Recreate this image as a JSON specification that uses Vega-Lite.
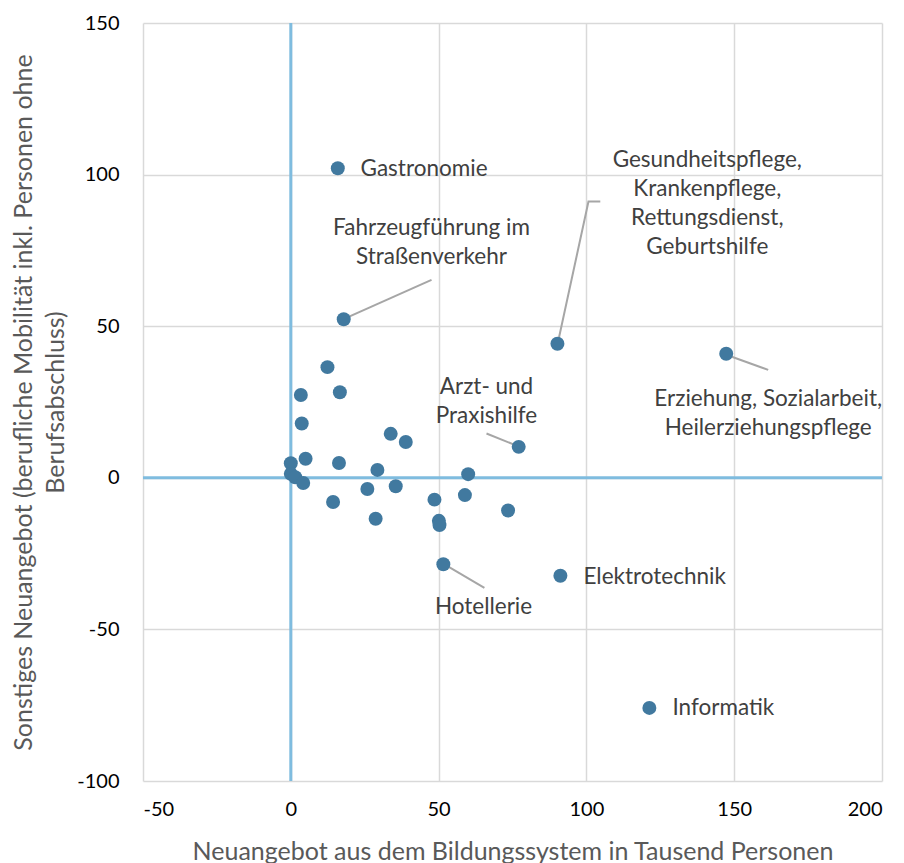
{
  "$schema": "https://vega.github.io/schema/vega-lite/v6.json",
  "width": 739,
  "height": 758,
  "autosize": {"type": "none"},
  "padding": {"left": 143, "top": 23, "right": 22, "bottom": 82},
  "background": "white",
  "config": {
    "view": {"stroke": null},
    "font": "Lato",
    "axis": {"labelFont": "Lato", "titleFont": "Lato"}
  },
  "datasets": {
    "points": [
      {"x": 15.9, "y": 102.1},
      {"x": 17.9, "y": 52.3},
      {"x": 90.2, "y": 44.2},
      {"x": 147.3, "y": 40.9},
      {"x": 12.4, "y": 36.5},
      {"x": 3.4, "y": 27.3},
      {"x": 16.6, "y": 28.2},
      {"x": 3.7, "y": 17.9},
      {"x": 33.8, "y": 14.5},
      {"x": 38.9, "y": 11.8},
      {"x": 77.1, "y": 10.2},
      {"x": 0.0, "y": 4.8},
      {"x": 5.0, "y": 6.3},
      {"x": 16.3, "y": 4.9},
      {"x": 29.3, "y": 2.6},
      {"x": 60.0, "y": 1.2},
      {"x": 0.0, "y": 1.3},
      {"x": 1.5, "y": 0.2},
      {"x": 4.2, "y": -1.7},
      {"x": 25.9, "y": -3.7},
      {"x": 35.5, "y": -2.8},
      {"x": 14.3, "y": -8.0},
      {"x": 48.6, "y": -7.2},
      {"x": 58.9, "y": -5.7},
      {"x": 73.5, "y": -10.8},
      {"x": 28.7, "y": -13.5},
      {"x": 50.1, "y": -14.2},
      {"x": 50.3, "y": -15.6},
      {"x": 51.6, "y": -28.5},
      {"x": 91.2, "y": -32.3},
      {"x": 121.3, "y": -75.9}
    ],
    "leaders": [
      {"id": "f", "x": 18.2, "y": 52.5, "o": 1},
      {"id": "f", "x": 47.6, "y": 65.3, "o": 2},
      {"id": "g", "x": 90.2, "y": 43.9, "o": 1},
      {"id": "g", "x": 100.7, "y": 91.1, "o": 2},
      {"id": "g", "x": 104.7, "y": 91.1, "o": 3},
      {"id": "e", "x": 147.3, "y": 40.6, "o": 1},
      {"id": "e", "x": 161.5, "y": 35.6, "o": 2},
      {"id": "a", "x": 77.4, "y": 10.2, "o": 1},
      {"id": "a", "x": 66.2, "y": 14.6, "o": 2},
      {"id": "h", "x": 51.7, "y": -28.4, "o": 1},
      {"id": "h", "x": 65.5, "y": -36.3, "o": 2}
    ],
    "labelsCenter": [
      {"x": 47.6, "y": 82.5, "t": "Fahrzeugführung im\nStraßenverkehr"},
      {"x": 140.9, "y": 104.9, "t": "Gesundheitspflege,\nKrankenpflege,\nRettungsdienst,\nGeburtshilfe"},
      {"x": 161.5, "y": 26.1, "t": "Erziehung, Sozialarbeit,\nHeilerziehungspflege"},
      {"x": 66.2, "y": 30.0, "t": "Arzt- und\nPraxishilfe"},
      {"x": 65.2, "y": -42.6, "t": "Hotellerie"}
    ],
    "labelsLeft": [
      {"x": 23.6, "y": 102.0, "t": "Gastronomie"},
      {"x": 99.0, "y": -32.7, "t": "Elektrotechnik"},
      {"x": 129.1, "y": -75.9, "t": "Informatik"}
    ],
    "zero": [{"v": 0}]
  },
  "layer": [
    {
      "data": {"name": "zero"},
      "mark": {"type": "rule", "color": "#7FBCDF", "strokeWidth": 3},
      "encoding": {
        "x": {
          "field": "v",
          "type": "quantitative",
          "scale": {"domain": [-50, 200], "nice": false, "zero": false},
          "axis": {
            "values": [-50, 0, 50, 100, 150, 200],
            "labelExpr": "'' + datum.value",
            "grid": true,
            "gridColor": "#D9D9D9",
            "gridWidth": 1.5,
            "domain": false,
            "ticks": false,
            "labelFontSize": 20,
            "labelColor": "#000000",
            "labelPadding": 18,
            "title": "Neuangebot aus dem Bildungssystem in Tausend Personen",
            "titleFontSize": 25,
            "titleFontWeight": "normal",
            "titleColor": "#595959",
            "titlePadding": 20
          }
        }
      }
    },
    {
      "data": {"name": "zero"},
      "mark": {"type": "rule", "color": "#7FBCDF", "strokeWidth": 3},
      "encoding": {
        "y": {
          "field": "v",
          "type": "quantitative",
          "scale": {"domain": [-100, 150], "nice": false, "zero": false},
          "axis": {
            "values": [-100, -50, 0, 50, 100, 150],
            "labelExpr": "'' + datum.value",
            "grid": true,
            "gridColor": "#D9D9D9",
            "gridWidth": 1.5,
            "domain": false,
            "ticks": false,
            "labelFontSize": 20,
            "labelColor": "#000000",
            "labelPadding": 24,
            "title": ["Sonstiges Neuangebot (berufliche Mobilität inkl. Personen ohne", "Berufsabschluss)"],
            "titleFontSize": 25,
            "titleFontWeight": "normal",
            "titleColor": "#595959",
            "titlePadding": 8,
            "titleLineHeight": 32
          }
        }
      }
    },
    {
      "data": {"name": "leaders"},
      "mark": {"type": "line", "color": "#A6A6A6", "strokeWidth": 2},
      "encoding": {
        "x": {"field": "x", "type": "quantitative"},
        "y": {"field": "y", "type": "quantitative"},
        "detail": {"field": "id"},
        "order": {"field": "o"}
      }
    },
    {
      "data": {"name": "points"},
      "mark": {"type": "circle", "color": "#41799F", "opacity": 1, "size": 195},
      "encoding": {
        "x": {"field": "x", "type": "quantitative"},
        "y": {"field": "y", "type": "quantitative"}
      }
    },
    {
      "data": {"name": "labelsCenter"},
      "mark": {"type": "text", "align": "center", "baseline": "middle", "fontSize": 22.5, "color": "#404040", "lineBreak": "\n", "lineHeight": 29},
      "encoding": {
        "x": {"field": "x", "type": "quantitative"},
        "y": {"field": "y", "type": "quantitative"},
        "text": {"field": "t"}
      }
    },
    {
      "data": {"name": "labelsLeft"},
      "mark": {"type": "text", "align": "left", "baseline": "middle", "fontSize": 22.5, "color": "#404040"},
      "encoding": {
        "x": {"field": "x", "type": "quantitative"},
        "y": {"field": "y", "type": "quantitative"},
        "text": {"field": "t"}
      }
    }
  ]
}
